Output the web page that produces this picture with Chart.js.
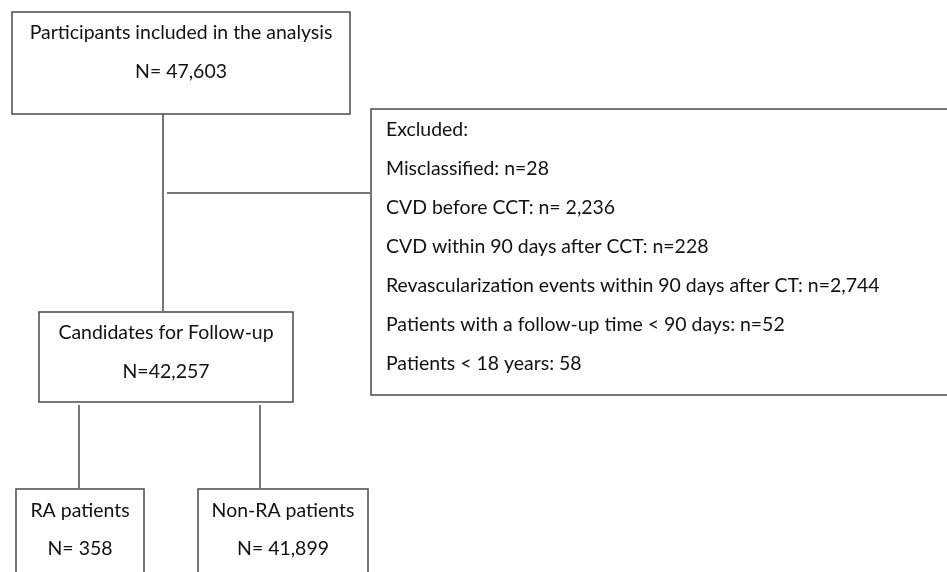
<!DOCTYPE html>
<html><head><meta charset="utf-8">
<script src="https://cdn.jsdelivr.net/npm/chart.js@4"></script>
<style>html,body{margin:0;padding:0;background:#fff}#wrap{width:947px;height:572px}</style>
</head><body><div id="wrap"><canvas id="c" width="947" height="572"></canvas></div>
<script>
// ---- data ----
const boxTitles = ["Participants included in the analysis", "Candidates for Follow-up", "RA patients", "Non-RA patients"];
const boxCounts = [47603, 42257, 358, 41899];
const boxCountPrefix = ["N= ", "N=", "N= ", "N= "];
const exclusionHeader = "Excluded:";
const exclusionReasons = ["Misclassified: n=", "CVD before CCT: n= ", "CVD within 90 days after CCT: n=", "Revascularization events within 90 days after CT: n=", "Patients with a follow-up time < 90 days: n=", "Patients < 18 years: "];
const exclusionCounts = [28, 2236, 228, 2744, 52, 58];

// ---- layout (in scale units) ----
const boxes = [
  {x0: 12, x1: 350, y0: 12, y1: 114, ty: [33, 72]},
  {x0: 39, x1: 293, y0: 312, y1: 402, ty: [333, 372]},
  {x0: 16, x1: 144, y0: 489, y1: 600, ty: [511, 549]},
  {x0: 198, x1: 368, y0: 489, y1: 600, ty: [511, 549]}
];
const exclBox = {x0: 371, x1: 960, y0: 109, y1: 395, tx: 386, ty0: 130, dy: 38.9};
const connectors = [
  [[163, 114], [163, 311]],
  [[167, 193], [370, 193]],
  [[79, 405], [79, 488]],
  [[260, 405], [260, 488]]
];
const fmt = n => n.toLocaleString('en-US');

const flowPlugin = {
  id: 'flow',
  afterDatasetsDraw(chart) {
    const ctx = chart.ctx, sx = chart.scales.x, sy = chart.scales.y;
    const X = v => sx.getPixelForValue(v), Y = v => sy.getPixelForValue(v);
    ctx.save();
    const fam = 'Lato, "Open Sans", sans-serif';
    ctx.font = '18px ' + fam;
    const longest = exclusionReasons[3] + fmt(exclusionCounts[3]);
    const size = 18 * 494 / ctx.measureText(longest).width;
    ctx.font = size.toFixed(2) + 'px ' + fam;
    ctx.strokeStyle = '#4a4a4a';
    ctx.lineWidth = 1.5;
    connectors.forEach(seg => {
      ctx.beginPath();
      ctx.moveTo(X(seg[0][0]), Y(seg[0][1]));
      ctx.lineTo(X(seg[1][0]), Y(seg[1][1]));
      ctx.stroke();
    });
    ctx.fillStyle = '#111';
    ctx.textBaseline = 'middle';
    boxes.forEach((b, i) => {
      ctx.strokeRect(X(b.x0), Y(b.y0), X(b.x1) - X(b.x0), Y(b.y1) - Y(b.y0));
      ctx.textAlign = 'center';
      const cx = X((b.x0 + b.x1) / 2);
      ctx.fillText(boxTitles[i], cx, Y(b.ty[0]));
      ctx.fillText(boxCountPrefix[i] + fmt(boxCounts[i]), cx, Y(b.ty[1]));
    });
    const e = exclBox;
    ctx.strokeRect(X(e.x0), Y(e.y0), X(e.x1) - X(e.x0), Y(e.y1) - Y(e.y0));
    ctx.textAlign = 'left';
    ctx.fillText(exclusionHeader, X(e.tx), Y(e.ty0));
    exclusionReasons.forEach((r, i) => {
      ctx.fillText(r + fmt(exclusionCounts[i]), X(e.tx), Y(e.ty0 + e.dy * (i + 1)));
    });
    ctx.restore();
  }
};

new Chart(document.getElementById('c'), {
  type: 'scatter',
  data: {datasets: [{data: [], pointRadius: 0}]},
  options: {
    responsive: false,
    animation: false,
    layout: {padding: 0},
    plugins: {legend: {display: false}, tooltip: {enabled: false}},
    scales: {
      x: {type: 'linear', min: 0, max: 947, display: false},
      y: {type: 'linear', min: 0, max: 572, reverse: true, display: false}
    }
  },
  plugins: [flowPlugin]
});
</script>
</body></html>
